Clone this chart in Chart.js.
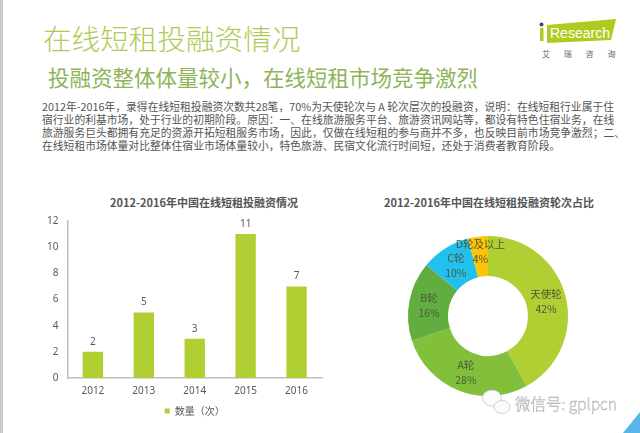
<!DOCTYPE html>
<html>
<head>
<meta charset="utf-8">
<script src="https://cdn.jsdelivr.net/npm/chart.js@4"></script>
<style>
  html, body { margin: 0; padding: 0; background: #fff; }
  body { width: 640px; height: 433px; position: relative; overflow: hidden; font-family: "Noto Sans CJK SC", sans-serif; }
  .abs { position: absolute; white-space: nowrap; }
  #strip { left: 0; top: 0; width: 3px; height: 433px; background: #c9c9c9; }
  #title { left: 43px; top: 22px; font-size: 28.6px; line-height: 32px; color: #afcb55; font-weight: 300; }
  #subtitle { left: 48px; top: 64px; font-size: 21.5px; line-height: 26px; color: #8fb45a; }
  #desc { left: 42px; top: 100px; font-size: 10.8px; line-height: 12.9px; color: #555; }
  .chartTitle { font-size: 11px; line-height: 14px; font-weight: 700; color: #555; }
  #barTitle { left: 110px; top: 195px; }
  #pieTitle { left: 384px; top: 195px; }
  #barBox { position: absolute; left: 30px; top: 206px; width: 310px; height: 222px; }
  #pieBox { position: absolute; left: 360px; top: 210px; width: 256px; height: 212px; }
  #logo, #mark { position: absolute; }
  #logo { left: 530px; top: 10px; }
  #mark { left: 470px; top: 380px; }
</style>
</head>
<body>
<div class="abs" id="strip"></div>
<div class="abs" id="title">在线短租投融资情况</div>
<div class="abs" id="subtitle">投融资整体体量较小，在线短租市场竞争激烈</div>
<div class="abs" id="desc">2012年-2016年，录得在线短租投融资次数共28笔，70%为天使轮次与 A 轮次层次的投融资，说明：在线短租行业属于住<br>宿行业的利基市场，处于行业的初期阶段。原因：一、在线旅游服务平台、旅游资讯网站等，都设有特色住宿业务，在线<br>旅游服务巨头都拥有充足的资源开拓短租服务市场，因此，仅做在线短租的参与商并不多，也反映目前市场竞争激烈；二、<br>在线短租市场体量对比整体住宿业市场体量较小，特色旅游、民宿文化流行时间短，还处于消费者教育阶段。</div>

<svg id="logo" width="110" height="60">
  <polygon points="17,15 86,9 81,30 17,33" fill="#aecb1f"/>
  <rect x="10" y="18" width="3.5" height="13" fill="#aecb1f"/>
  <circle cx="11.5" cy="14.5" r="2" fill="#3f4a6a"/>
  <text x="20" y="28" font-family="Liberation Sans" font-size="14" fill="#fff">Research</text>
  <text x="12" y="47" font-family="Noto Sans CJK SC" font-size="8" fill="#666" word-spacing="12">艾 瑞 咨 询</text>
</svg>

<div class="abs chartTitle" id="barTitle">2012-2016年中国在线短租投融资情况</div>
<div class="abs chartTitle" id="pieTitle">2012-2016年中国在线短租投融资轮次占比</div>
<div id="barBox"><canvas id="barChart"></canvas></div>
<div id="pieBox"><canvas id="pieChart"></canvas></div>

<svg id="mark" width="170" height="53">
  <polygon points="153,53 170,32 170,53" fill="#58b7e8"/>
  <ellipse cx="22" cy="18" rx="9.5" ry="8" fill="#fbfbfb" stroke="#bdbdbd" stroke-width="0.7"/>
  <ellipse cx="32" cy="27" rx="8" ry="6.5" fill="#fbfbfb" stroke="#bdbdbd" stroke-width="0.7"/>
  <text x="45" y="30" font-family="Noto Sans CJK SC" font-size="15.5" font-weight="300" fill="#f4f4f4" stroke="#a8a8a8" stroke-width="0.4">微信号: gplpcn</text>
</svg>

<script>
const years = ["2012", "2013", "2014", "2015", "2016"];
const counts = [2, 5, 3, 11, 7];
const barLegend = "数量（次）";
const rounds = ["天使轮", "A轮", "B轮", "C轮", "D轮及以上"];
const shares = [42, 28, 16, 10, 4];
const roundColors = ["#afcf33", "#82c03c", "#62ad40", "#22c0ee", "#fdc20a"];
const yTicks = [0, 2, 4, 6, 8, 10, 12];

const tickFont = { family: "'Noto Sans', sans-serif", size: 10 };

// numbers over the bars
const barLabels = {
  id: "barLabels",
  afterDatasetsDraw(chart) {
    const ctx = chart.ctx;
    ctx.save();
    ctx.font = "10px 'Noto Sans', sans-serif";
    ctx.fillStyle = "#595959";
    ctx.textAlign = "center";
    ctx.textBaseline = "bottom";
    chart.getDatasetMeta(0).data.forEach((bar, i) => {
      ctx.fillText(counts[i], bar.x, bar.y - 5);
    });
    ctx.restore();
  },
};

// two line labels inside the slices
const pieLabels = {
  id: "pieLabels",
  afterDatasetsDraw(chart) {
    const ctx = chart.ctx;
    ctx.save();
    ctx.font = "10.5px 'Noto Sans CJK SC', sans-serif";
    ctx.fillStyle = "#4d5a36";
    ctx.textAlign = "center";
    ctx.textBaseline = "middle";
    chart.getDatasetMeta(0).data.forEach((arc, i) => {
      const p = arc.getCenterPoint();
      const up = i === rounds.length - 1 ? 5 : 0; // last slice is thin, label sits higher
      ctx.fillText(rounds[i], p.x, p.y - 7 - up);
      ctx.fillText(shares[i] + "%", p.x, p.y + 8 - up);
    });
    ctx.restore();
  },
};

new Chart(document.getElementById("barChart"), {
  type: "bar",
  data: {
    labels: years,
    datasets: [{ label: barLegend, data: counts, backgroundColor: "#afcf33", barPercentage: 0.8, categoryPercentage: 0.5 }],
  },
  options: {
    responsive: true,
    maintainAspectRatio: false,
    animation: false,
    layout: { padding: { left: 8, right: 18, top: 4, bottom: 2 } },
    plugins: {
      title: { display: false },
      tooltip: { enabled: false },
      legend: {
        position: "bottom",
        fullSize: false,
        labels: { boxWidth: 5, boxHeight: 5, padding: 2, color: "#595959", font: { family: "'Noto Sans CJK SC'", size: 10 } },
      },
    },
    scales: {
      x: {
        grid: { display: false, drawTicks: false },
        border: { color: "#bfbfbf", width: 1.5 },
        ticks: { color: "#595959", font: tickFont, padding: 7 },
      },
      y: {
        min: 0,
        max: 12,
        afterBuildTicks(axis) { axis.ticks = yTicks.map((v) => ({ value: v })); },
        grid: { display: false, drawTicks: false },
        border: { color: "#bfbfbf", width: 1.5 },
        ticks: { color: "#595959", font: tickFont, padding: 9 },
      },
    },
  },
  plugins: [barLabels],
});

new Chart(document.getElementById("pieChart"), {
  type: "doughnut",
  data: {
    labels: rounds,
    datasets: [{ data: shares, backgroundColor: roundColors, borderWidth: 0 }],
  },
  options: {
    responsive: true,
    maintainAspectRatio: false,
    animation: false,
    radius: 80,
    cutout: 40,
    layout: { padding: { top: 26, bottom: 26 } },
    plugins: { legend: { display: false }, tooltip: { enabled: false } },
  },
  plugins: [pieLabels],
});
</script>
</body>
</html>
